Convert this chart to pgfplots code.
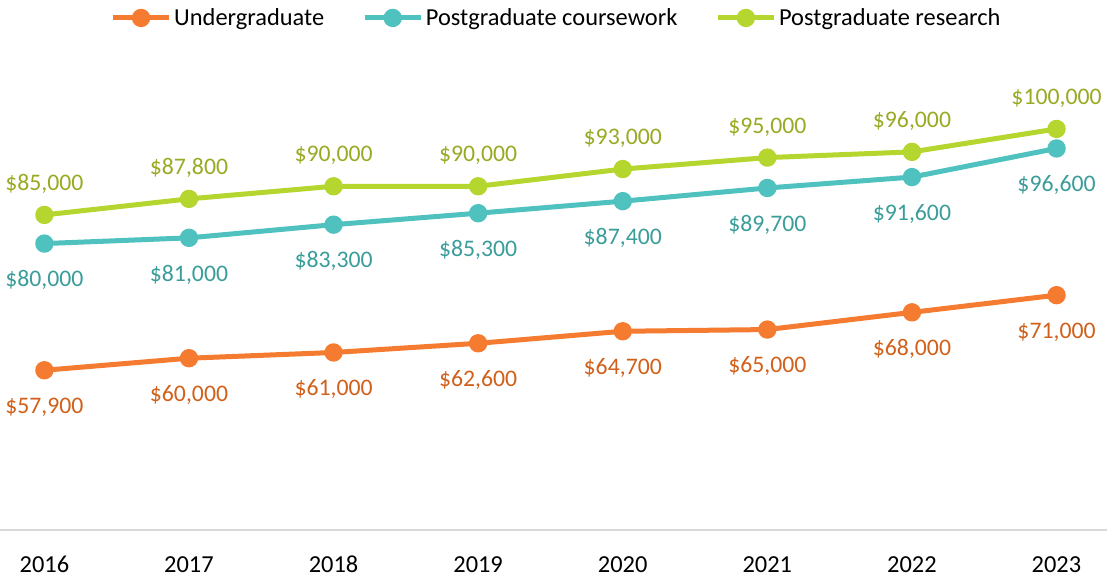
\documentclass[border=0pt]{standalone}
\usepackage{fontspec}
\setmainfont{Carlito}
\usepackage{pgfplots}
\pgfplotsset{compat=1.18}

\definecolor{ugline}{HTML}{F47B30}
\definecolor{ugtext}{HTML}{D0601A}
\definecolor{pcline}{HTML}{4FC1BE}
\definecolor{pctext}{HTML}{3A9D9A}
\definecolor{prline}{HTML}{B5D52F}
\definecolor{prtext}{HTML}{99AA22}
\definecolor{axisgray}{HTML}{D9D9D9}

% data (AUD)
\pgfplotstableread{
year ug pc pr
2016 57900 80000 85000
2017 60000 81000 87800
2018 61000 83300 90000
2019 62600 85300 90000
2020 64700 87400 93000
2021 65000 89700 95000
2022 68000 91600 96000
2023 71000 96600 100000
}\salaries

\newcommand{\lbl}{\fontsize{17.8}{21}\selectfont}
\newcommand{\lgd}{\fontsize{18.3}{22}\selectfont}

\begin{document}
\begin{tikzpicture}
\begin{axis}[
    scale only axis,
    width=830pt, height=367.5pt,
    xmin=2015.693, xmax=2023.349,
    ymin=30000, ymax=115515,
    axis y line=none,
    axis x line*=bottom,
    x axis line style={axisgray, line width=1.5pt, -},
    xtick={2016,...,2023},
    xticklabels={2016,2017,2018,2019,2020,2021,2022,2023},
    major tick length=0pt,
    xticklabel style={anchor=base, yshift=-31.5pt, font=\lgd},
    clip=false,
    line width=3.75pt,
    every axis plot/.append style={mark=*, mark size=5pt, line join=round},
    point meta=y,
    nodes near coords={\$\pgfmathprintnumber[fixed,precision=0,1000 sep={,},assume math mode=true]{\pgfplotspointmeta}},
    legend columns=3,
    legend style={
        draw=none, fill=none, at={(0.503,1.045)}, anchor=center,
        font=\lgd,
        /tikz/every even column/.append style={column sep=26.5pt},
        inner sep=0pt,
    },
    legend cell align=left,
    legend image code/.code={
        \draw[mark repeat=2, mark phase=2] plot coordinates {(0pt,0pt) (21pt,0pt) (42pt,0pt)};
    },
]
\addplot[color=ugline, every node near coord/.append style={color=ugtext, anchor=center, yshift=-27.5pt, font=\lbl}]
    table[x=year, y=ug] {\salaries};
\addlegendentry{Undergraduate}
\addplot[color=pcline, every node near coord/.append style={color=pctext, anchor=center, yshift=-27.5pt, font=\lbl}]
    table[x=year, y=pc] {\salaries};
\addlegendentry{Postgraduate coursework}
\addplot[color=prline, every node near coord/.append style={color=prtext, anchor=center, yshift=23pt, font=\lbl}]
    table[x=year, y=pr] {\salaries};
\addlegendentry{Postgraduate research}
\end{axis}
\pgfresetboundingbox
\path ([yshift=-36.75pt]current axis.south west) rectangle ([yshift=30pt]current axis.north east);
\end{tikzpicture}
\end{document}
